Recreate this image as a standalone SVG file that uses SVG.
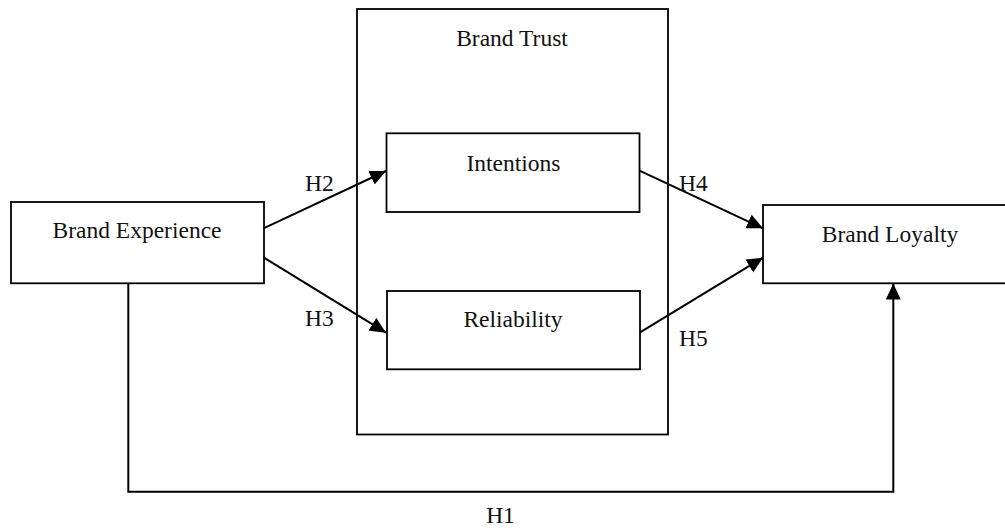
<svg xmlns="http://www.w3.org/2000/svg" width="1005" height="529" viewBox="0 0 1005 529">
<style>
.box{fill:none;stroke:#000;stroke-width:1.8}
.lbl{font-family:"Liberation Serif","Times New Roman",serif;font-size:23.5px;fill:#111}
.c{text-anchor:middle}
.ln{fill:none;stroke:#000;stroke-width:2}
</style>
<defs>
<marker id="ah" viewBox="0 0 16 16" refX="16" refY="8" markerWidth="16" markerHeight="16" markerUnits="userSpaceOnUse" orient="auto">
<path d="M0,0.5 L16,8 L0,15.5 Z" fill="#000"/>
</marker>
</defs>
<rect width="1005" height="529" fill="#fff"/>
<g id="brand-trust">
<rect class="box" x="357" y="9" width="311" height="425.5"/>
<text class="lbl c" x="512" y="46">Brand Trust</text>
</g>
<g id="brand-experience">
<rect class="box" x="11" y="202" width="253" height="81.3"/>
<text class="lbl c" x="137" y="238.3">Brand Experience</text>
</g>
<g id="intentions">
<rect class="box" x="386.5" y="133.3" width="253" height="78.7"/>
<text class="lbl c" x="513.5" y="170.7">Intentions</text>
</g>
<g id="reliability">
<rect class="box" x="387" y="291" width="253" height="78.3"/>
<text class="lbl c" x="513" y="327">Reliability</text>
</g>
<g id="brand-loyalty">
<rect class="box" x="763" y="205" width="260" height="78.3"/>
<text class="lbl c" x="890" y="241.7">Brand Loyalty</text>
</g>
<g id="connectors">
<line class="ln" x1="263.5" y1="228.3" x2="386" y2="171" marker-end="url(#ah)"/>
<line class="ln" x1="263.5" y1="257.3" x2="386" y2="332.7" marker-end="url(#ah)"/>
<line class="ln" x1="639.5" y1="170.7" x2="763" y2="228.3" marker-end="url(#ah)"/>
<line class="ln" x1="640" y1="332.3" x2="763" y2="257.7" marker-end="url(#ah)"/>
<polyline class="ln" points="128.3,283.3 128.3,491.7 893.3,491.7 893.3,283.5" marker-end="url(#ah)"/>
<text class="lbl" x="305" y="190.7">H2</text>
<text class="lbl" x="305" y="325.7">H3</text>
<text class="lbl" x="679" y="190.7">H4</text>
<text class="lbl" x="679" y="346">H5</text>
<text class="lbl c" x="500.5" y="523">H1</text>
</g>
</svg>
